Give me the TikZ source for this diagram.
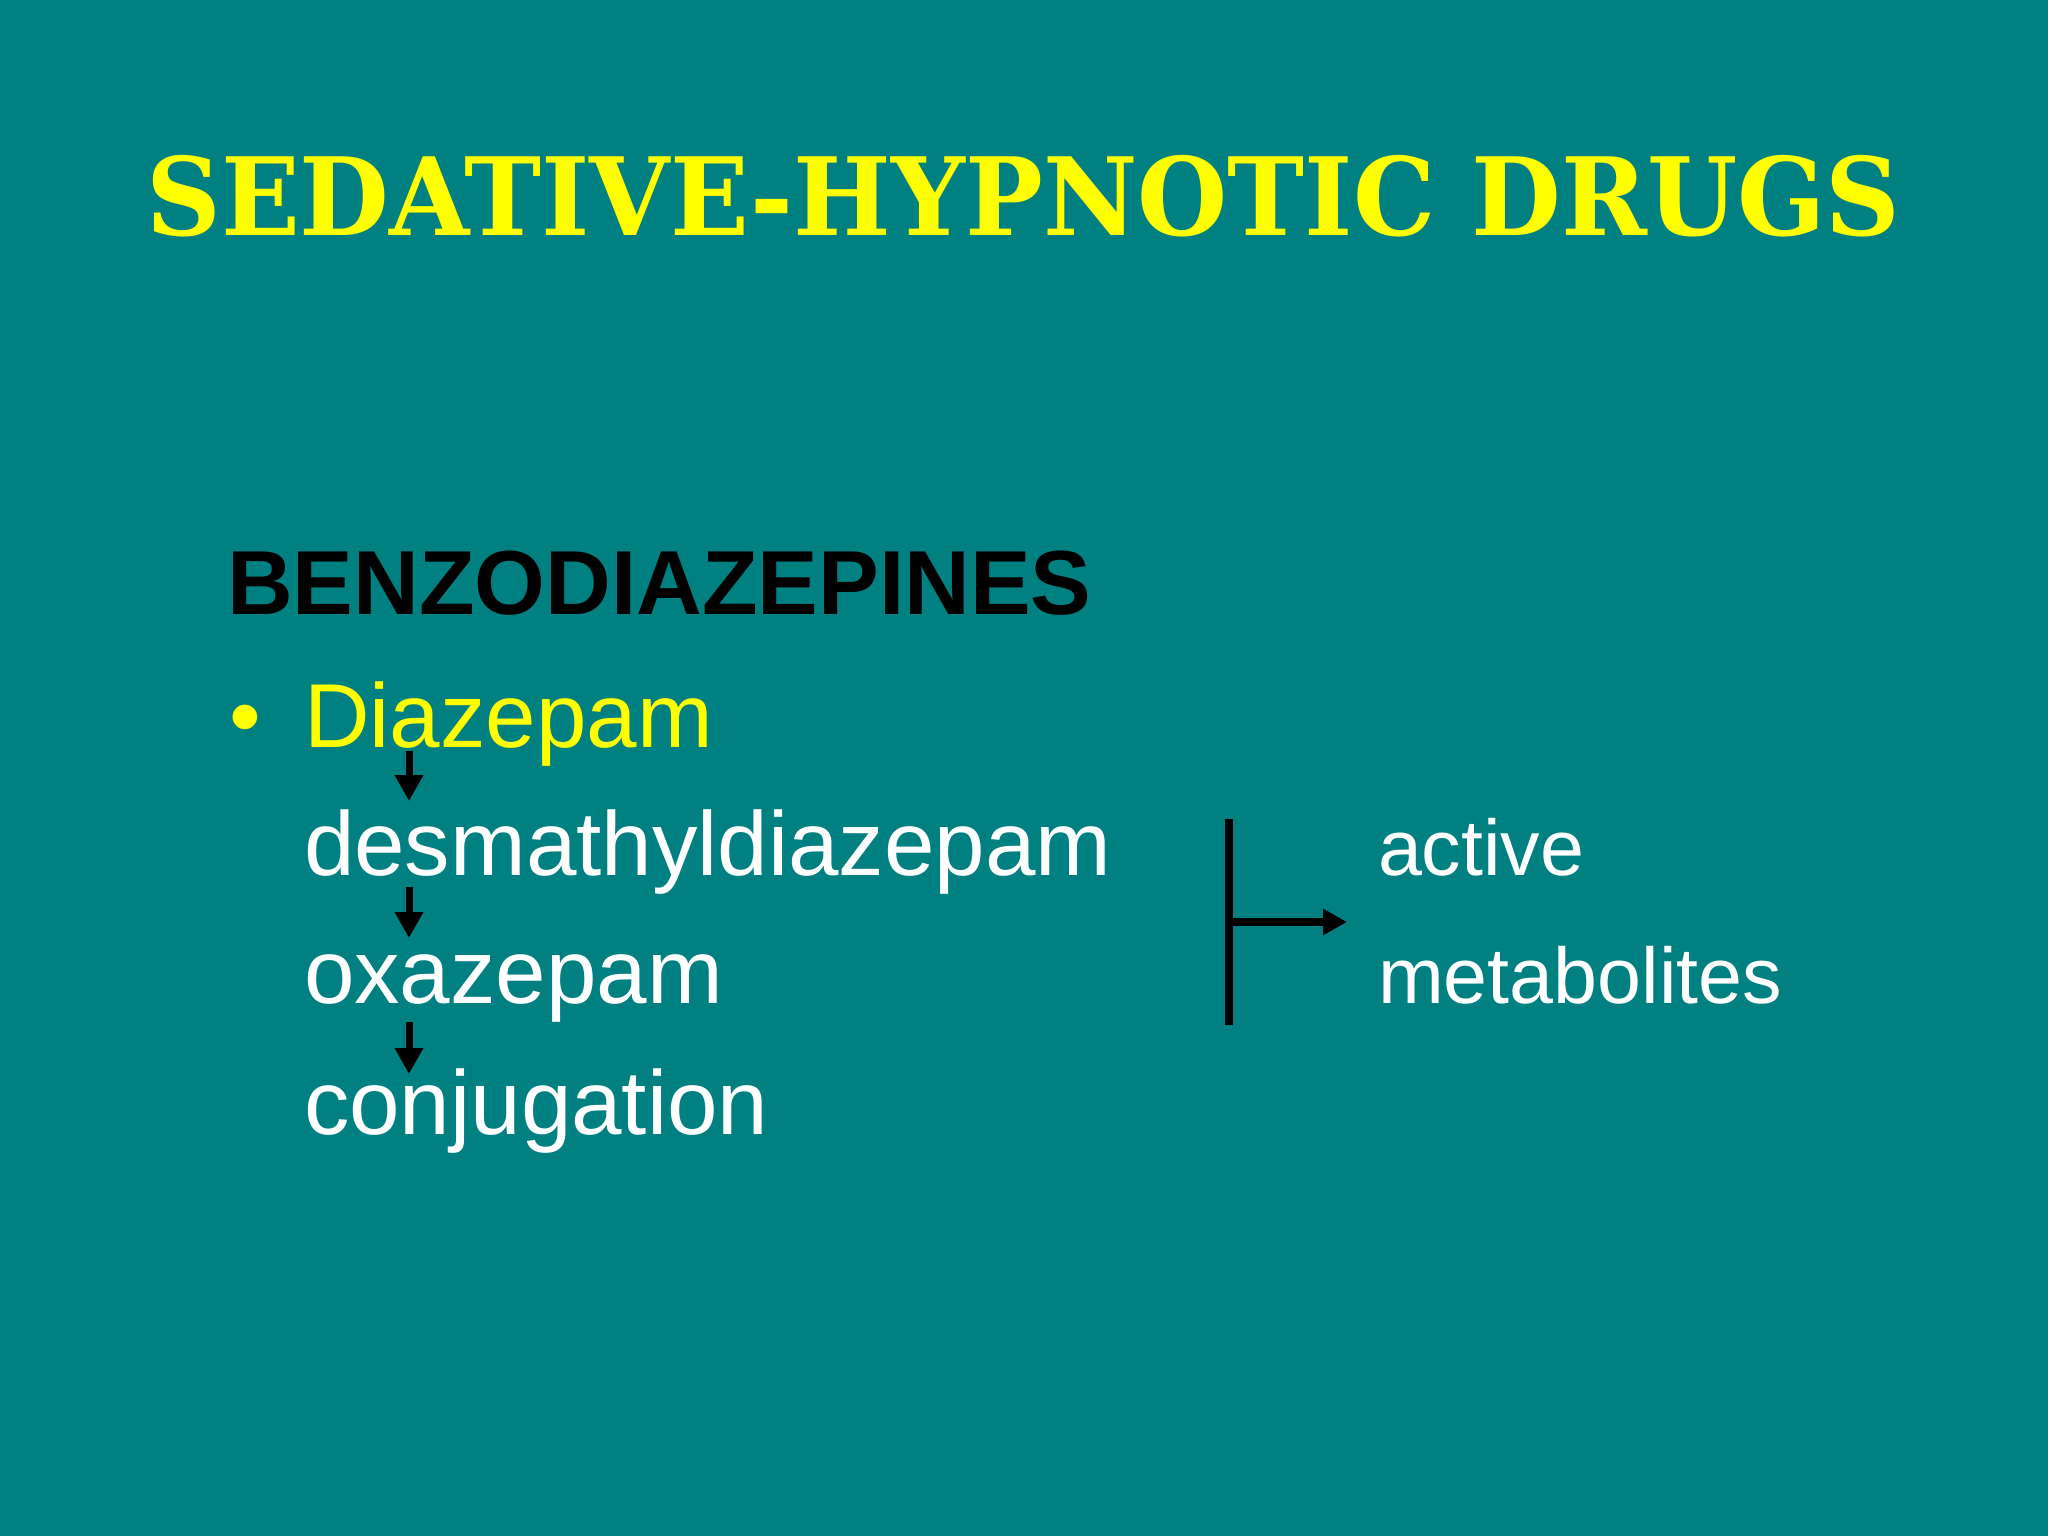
\documentclass[tikz,border=0pt]{standalone}
\usepackage{fontspec}
\setmainfont{Liberation Sans}
\newfontfamily\titlefont{DejaVu Serif}
\usetikzlibrary{arrows.meta}
\definecolor{bg}{RGB}{0,128,128}
\definecolor{ttl}{RGB}{255,255,0}
\tikzset{
  txt/.style={anchor=base west, inner sep=0pt, outer sep=0pt, font=\fontsize{45.4}{54}\selectfont},
  side/.style={anchor=base west, inner sep=0pt, outer sep=0pt, text=white, font=\fontsize{39.5}{48}\selectfont},
  flow/.style={line width=3.5pt, -{Triangle[length=13pt,width=13.5pt]}},
  brk/.style={line width=4pt},
}
\begin{document}
\begin{tikzpicture}[x=0.5pt,y=-0.5pt]
\fill[bg] (0,0) rectangle (2048,1536);
\useasboundingbox (0,0) rectangle (2048,1536);
\node[anchor=base west, inner sep=0pt, text=ttl, font=\titlefont\bfseries\fontsize{54}{60}\selectfont] (title) at (146,235) {\scalebox{0.958}[1]{SEDATIVE-HYPNOTIC DRUGS}};
\node[txt, font=\bfseries\fontsize{45.5}{54}\selectfont, text=black] (benz) at (227,614) {BENZODIAZEPINES};
\node[txt, text=ttl] (bul) at (229,747) {•};
\node[txt, text=ttl] (diaz) at (304,747) {Diazepam};
\node[txt, text=white] (desm) at (304,875) {desmathyldiazepam};
\node[txt, text=white] (oxa) at (304,1003) {oxazepam};
\node[txt, text=white] (conj) at (304,1134) {conjugation};
\node[side] (act) at (1378,875) {active};
\node[side] (met) at (1378,1003) {metabolites};
\draw[flow] ([shift={(105,4)}]diaz.base west) -- ([shift={(105,-74)}]desm.base west);
\draw[flow] ([shift={(105,12)}]desm.base west) -- ([shift={(105,-65)}]oxa.base west);
\draw[flow] ([shift={(105,19)}]oxa.base west) -- ([shift={(105,-60)}]conj.base west);
\coordinate (btop) at ([shift={(-149,-56)}]act.base west);
\coordinate (bbot) at ([shift={(-149,22)}]met.base west);
\coordinate (bmid) at ([shift={(-149,47)}]act.base west);
\coordinate (bend) at ([shift={(-31,47)}]act.base west);
\draw[brk] (btop) -- (bbot);
\draw[brk, -{Triangle[length=12pt,width=12.5pt]}] (bmid) -- (bend);
\end{tikzpicture}
\end{document}
